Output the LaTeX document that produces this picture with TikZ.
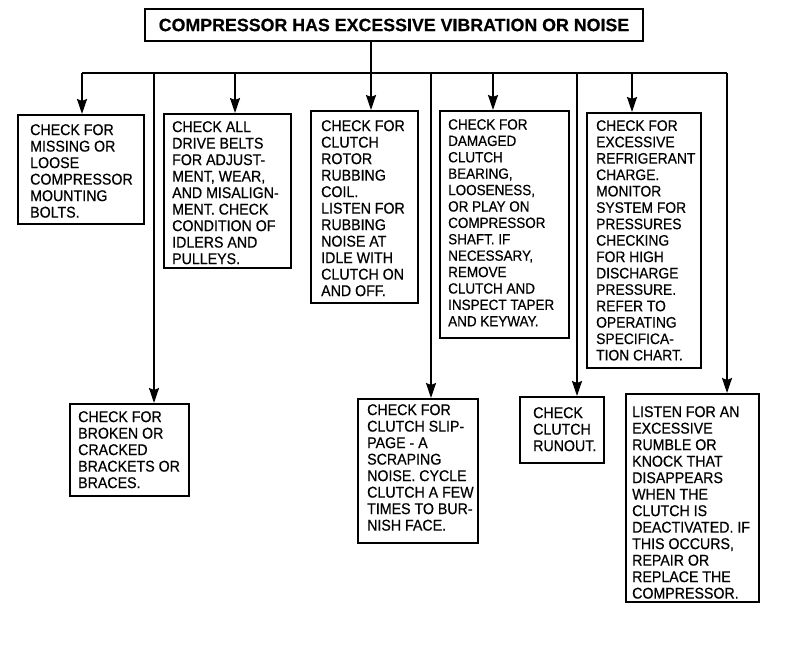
\documentclass[tikz,border=0pt]{standalone}
\usepackage{fontspec}
\setmainfont{Liberation Sans}[FakeBold=0.4]
\newfontfamily\medfont{Liberation Sans}[FakeStretch=0.91, FakeBold=0.5]
\usetikzlibrary{arrows.meta}
\tikzset{
  boxnode/.style={draw, line width=1.8pt, anchor=north west, inner sep=0pt},
  txt/.style={anchor=north west, inner sep=0pt, align=left, font=\medfont\fontsize{15.6}{16.5}\selectfont},
  txtwide/.style={anchor=north west, inner sep=0pt, align=left},
  ln/.style={line width=1.8pt},
  arr/.style={line width=1.8pt, -{Stealth[length=15pt,width=10pt,inset=2pt]}}
}
\begin{document}
\begin{tikzpicture}[x=1pt,y=-1pt]
\useasboundingbox (0,0) rectangle (800,652);
% title
\node[draw, line width=2.6pt, minimum width=498pt, minimum height=32pt, inner sep=0pt,
      font=\bfseries\fontsize{17.8}{20}\selectfont] (title) at (394,25)
      {COMPRESSOR HAS EXCESSIVE VIBRATION OR NOISE};
% bus coordinates
\coordinate (k1) at (82,73);
\coordinate (k6) at (154,73);
\coordinate (k2) at (235,73);
\coordinate (k3) at (371,73);
\coordinate (k7) at (431,73);
\coordinate (k4) at (493,73);
\coordinate (k8) at (577,73);
\coordinate (k5) at (632,73);
\coordinate (k9) at (727,73);
% boxes
\node[boxnode, minimum width=126pt, minimum height=109pt] (b1) at (17,114) {};
\node[boxnode, minimum width=127pt, minimum height=154pt] (b2) at (163,113) {};
\node[boxnode, minimum width=107pt, minimum height=192pt] (b3) at (310,110) {};
\node[boxnode, minimum width=129pt, minimum height=227pt] (b4) at (439,110) {};
\node[boxnode, minimum width=114pt, minimum height=255pt] (b5) at (586,112) {};
\node[boxnode, minimum width=119pt, minimum height=92pt] (b6) at (69,403) {};
\node[boxnode, minimum width=120pt, minimum height=144pt] (b7) at (357,398) {};
\node[boxnode, minimum width=84pt, minimum height=66pt] (b8) at (519,396) {};
\node[boxnode, minimum width=133pt, minimum height=208pt] (b9) at (625,393) {};
% texts
\node[txt] (t1) at (30,124) {CHECK FOR\\MISSING OR\\LOOSE\\COMPRESSOR\\MOUNTING\\BOLTS.};
\node[txt] (t2) at (172,121) {CHECK ALL\\DRIVE BELTS\\FOR ADJUST-\\MENT, WEAR,\\AND MISALIGN-\\MENT. CHECK\\CONDITION OF\\IDLERS AND\\PULLEYS.};
\node[txt] (t3) at (321,120) {CHECK FOR\\CLUTCH\\ROTOR\\RUBBING\\COIL.\\LISTEN FOR\\RUBBING\\NOISE AT\\IDLE WITH\\CLUTCH ON\\AND OFF.};
\node[txtwide, font=\medfont\fontsize{14.8}{16.4}\selectfont] (t4) at (448,119) {CHECK FOR\\DAMAGED\\CLUTCH\\BEARING,\\LOOSENESS,\\OR PLAY ON\\COMPRESSOR\\SHAFT. IF\\NECESSARY,\\REMOVE\\CLUTCH AND\\INSPECT TAPER\\AND KEYWAY.};
\node[txtwide, font=\medfont\fontsize{15.2}{16.4}\selectfont] (t5) at (596,120) {CHECK FOR\\EXCESSIVE\\REFRIGERANT\\CHARGE.\\MONITOR\\SYSTEM FOR\\PRESSURES\\CHECKING\\FOR HIGH\\DISCHARGE\\PRESSURE.\\REFER TO\\OPERATING\\SPECIFICA-\\TION CHART.};
\node[txt] (t6) at (78,411) {CHECK FOR\\BROKEN OR\\CRACKED\\BRACKETS OR\\BRACES.};
\node[txt] (t7) at (367,404) {CHECK FOR\\CLUTCH SLIP-\\PAGE - A\\SCRAPING\\NOISE. CYCLE\\CLUTCH A FEW\\TIMES TO BUR-\\NISH FACE.};
\node[txt] (t8) at (533,407) {CHECK\\CLUTCH\\RUNOUT.};
\node[txt] (t9) at (632,406) {LISTEN FOR AN\\EXCESSIVE\\RUMBLE OR\\KNOCK THAT\\DISAPPEARS\\WHEN THE\\CLUTCH IS\\DEACTIVATED. IF\\THIS OCCURS,\\REPAIR OR\\REPLACE THE\\COMPRESSOR.};
% connectors
\draw[ln] (k1) -- (k9);
\draw[arr] (title.south -| k3) -- (k3 |- b3.north);
\draw[arr] (k1) -- (k1 |- b1.north);
\draw[arr] (k2) -- (k2 |- b2.north);
\draw[arr] (k4) -- (k4 |- b4.north);
\draw[arr] (k5) -- (k5 |- b5.north);
\draw[arr] (k6) -- (k6 |- b6.north);
\draw[arr] (k7) -- (k7 |- b7.north);
\draw[arr] (k8) -- (k8 |- b8.north);
\draw[arr] (k9) -- (k9 |- b9.north);
\end{tikzpicture}
\end{document}
